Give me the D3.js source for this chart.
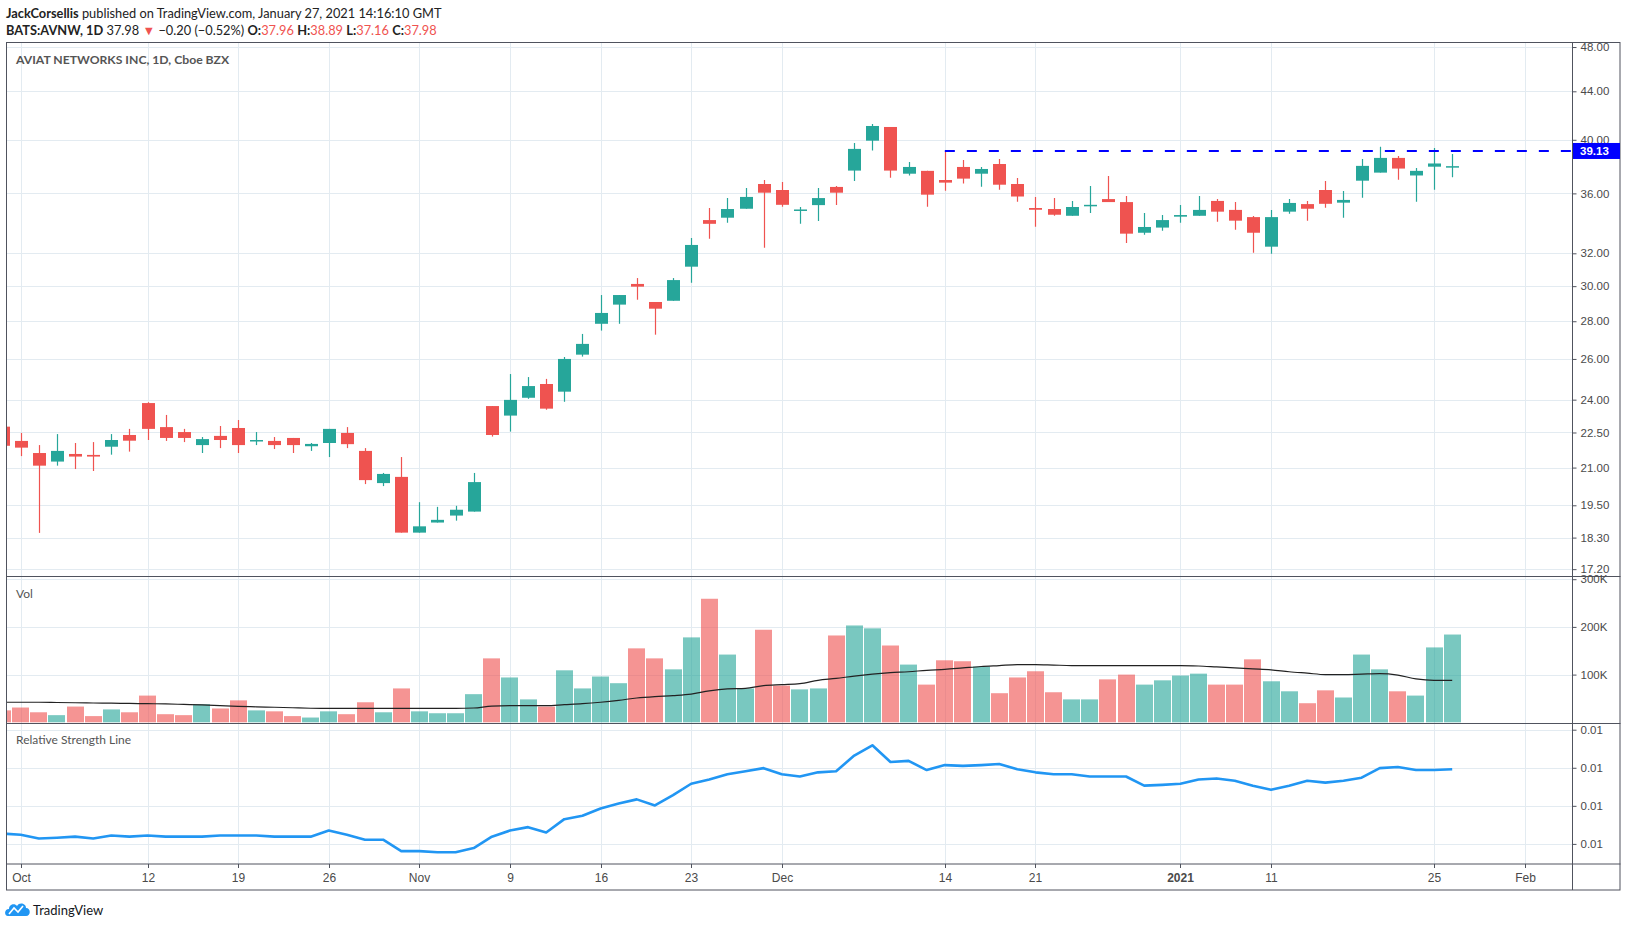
<!DOCTYPE html>
<html><head><meta charset="utf-8">
<script src="https://cdn.jsdelivr.net/npm/d3@7"></script>
<style>body{margin:0;background:#fff;} svg{display:block;font-family:"Liberation Sans",Arial,sans-serif;}</style>
</head><body><svg id="c" width="1627" height="930"></svg>
<script>
// ---------- DATA ----------
const dates = [
 "2020-09-30",
 "2020-10-01","2020-10-02","2020-10-05","2020-10-06","2020-10-07","2020-10-08","2020-10-09","2020-10-12","2020-10-13","2020-10-14","2020-10-15","2020-10-16","2020-10-19","2020-10-20","2020-10-21","2020-10-22","2020-10-23","2020-10-26","2020-10-27","2020-10-28","2020-10-29","2020-10-30",
 "2020-11-02","2020-11-03","2020-11-04","2020-11-05","2020-11-06","2020-11-09","2020-11-10","2020-11-11","2020-11-12","2020-11-13","2020-11-16","2020-11-17","2020-11-18","2020-11-19","2020-11-20","2020-11-23","2020-11-24","2020-11-25","2020-11-27","2020-11-30",
 "2020-12-01","2020-12-02","2020-12-03","2020-12-04","2020-12-07","2020-12-08","2020-12-09","2020-12-10","2020-12-11","2020-12-14","2020-12-15","2020-12-16","2020-12-17","2020-12-18","2020-12-21","2020-12-22","2020-12-23","2020-12-24","2020-12-28","2020-12-29","2020-12-30","2020-12-31",
 "2021-01-04","2021-01-05","2021-01-06","2021-01-07","2021-01-08","2021-01-11","2021-01-12","2021-01-13","2021-01-14","2021-01-15","2021-01-19","2021-01-20","2021-01-21","2021-01-22","2021-01-25","2021-01-26"
];
const futureDates = ["2021-01-27","2021-01-28","2021-01-29","2021-02-01"];

const opens = [22.76,
 22.13,21.61,21.25,21.57,21.53,21.88,22.39,23.84,22.74,22.52,21.95,22.35,22.70,22.13,22.13,22.26,21.90,22.04,22.48,21.70,20.37,20.62,
 18.48,18.85,19.11,19.26,23.70,23.26,24.09,24.75,24.38,26.22,27.86,28.93,30.13,29.08,29.15,31.17,34.16,34.32,34.93,36.67,
 36.24,34.80,35.18,36.46,37.65,39.93,41.02,37.42,37.63,36.96,37.92,37.42,38.14,36.67,34.98,34.91,34.45,35.13,35.60,35.39,33.32,33.66,
 34.39,34.45,35.47,34.85,34.36,32.42,34.73,35.25,36.24,35.35,36.91,37.50,38.60,37.29,37.94,37.96];
const highs = [22.95,
 22.48,21.95,22.43,22.04,22.08,22.43,22.66,23.88,23.29,22.66,22.30,22.79,23.06,22.52,22.30,22.26,22.04,22.66,22.74,21.82,20.78,21.44,
 19.62,19.44,19.48,20.78,23.70,25.24,25.09,25.00,26.10,27.31,29.48,29.48,30.48,29.08,30.48,32.98,34.98,35.67,36.39,36.96,
 36.81,35.05,36.39,36.53,39.75,41.26,41.02,38.29,37.63,39.13,38.44,37.92,38.52,37.11,35.75,35.67,35.47,36.53,37.25,35.82,34.64,34.50,
 35.18,35.82,35.60,35.39,34.43,34.85,35.60,35.47,36.89,36.17,38.52,39.45,38.75,37.85,39.36,38.89];
const lows = [21.80,
 21.48,18.47,21.08,20.94,20.86,21.54,21.67,22.17,22.13,22.08,21.61,21.82,21.61,21.95,21.78,21.61,21.70,21.44,21.82,20.33,20.25,18.48,
 18.48,18.85,18.92,19.26,22.32,22.54,24.04,23.53,23.90,26.12,27.49,27.86,29.21,27.27,29.15,30.20,32.93,33.98,34.93,32.35,
 35.06,33.91,34.09,35.18,36.89,39.16,37.13,37.29,35.06,36.19,36.70,36.48,36.26,35.42,33.72,34.45,34.45,34.64,35.39,32.66,33.19,33.45,
 33.98,34.45,34.05,33.52,32.04,31.98,34.59,34.12,35.00,34.32,35.70,37.50,36.98,35.42,36.26,37.16];
const closes = [21.92,
 21.84,21.08,21.70,21.46,21.46,22.17,22.14,22.66,22.26,22.26,22.21,22.17,21.95,22.17,21.95,21.95,22.00,22.66,21.99,20.49,20.74,18.48,
 18.71,18.95,19.33,20.41,22.39,23.99,24.65,23.58,26.00,26.78,28.46,29.48,29.97,28.70,30.36,32.53,33.91,34.91,35.75,36.05,
 35.20,34.88,35.67,36.05,39.29,41.10,37.65,37.92,35.91,36.77,37.06,37.77,36.62,35.78,34.86,34.52,35.05,35.20,35.39,33.26,33.70,34.16,
 34.50,34.85,34.73,34.12,33.32,34.36,35.33,34.93,35.27,35.54,38.00,38.60,37.80,37.63,38.18,37.98];
// volume, thousands of shares
const volumes = [25,
 31,21,15,33,13,27,21,56,17,15,38,29,46,25,23,13,10,23,17,42,21,71,
 23,19,19,59,134,94,48,33,109,71,96,82,155,134,111,178,259,142,71,194,
 77,69,71,182,203,197,161,121,79,130,128,117,61,94,107,63,48,48,90,100,79,88,
 98,102,79,79,132,86,65,40,67,52,142,111,65,56,157,184];
// volume moving average, thousands
const volMA = [42,
 42,42,41.5,41,40.5,40,39.5,39,38.5,37.5,36.5,35,33.5,32.5,31.5,30.5,29.5,29,29,29,29,
 29,29,29,29,30,34,35,35,35,37,39,42,46,51,54,56,59,66,70,71,
 77,79,81,88,92,97,101,104,106,109,111,114,117,119,121,121,120,119,119,119,119,119,
 119,119,118,116,114,112,110,106,103,100,100,101,102,99,91,88,88,91];
// relative strength line
const rsl = [0.00727,
 0.00724,0.00714,0.00716,0.00719,0.00714,0.00722,0.00719,0.00722,0.00719,0.00719,0.00719,0.00722,0.00722,0.00722,0.00719,0.00719,0.00719,0.00735,0.00724,0.00711,0.00711,0.00681,
 0.00681,0.00678,0.00678,0.00689,0.00719,0.00735,0.00744,0.00730,0.00765,0.00774,0.00793,0.00806,0.00817,0.00801,0.00828,0.00858,0.00869,0.00883,0.00891,0.00899,
 0.00883,0.00877,0.00888,0.00891,0.00932,0.00959,0.00915,0.00918,0.00894,0.00907,0.00905,0.00907,0.00910,0.00896,0.00888,0.00883,0.00883,0.00877,0.00877,0.00877,0.00853,0.00855,
 0.00858,0.00869,0.00872,0.00866,0.00853,0.00842,0.00853,0.00866,0.00861,0.00866,0.00874,0.00899,0.00902,0.00894,0.00894,0.00896];

const priceTicks = [17.20,18.30,19.50,21.00,22.50,24.00,26.00,28.00,30.00,32.00,36.00,40.00,44.00,48.00];
const volTicks = [100000,200000,300000];
const volTickLabels = ["100K","200K","300K"];
const rslTicks = [0.0070,0.0080,0.0090,0.0100];
const timeTicks = [["2020-10-01","Oct"],["2020-10-12","12"],["2020-10-19","19"],["2020-10-26","26"],["2020-11-02","Nov"],["2020-11-09","9"],["2020-11-16","16"],["2020-11-23","23"],["2020-12-01","Dec"],["2020-12-14","14"],["2020-12-21","21"],["2021-01-04","2021"],["2021-01-11","11"],["2021-01-25","25"],["2021-02-01","Feb"]];
const levelPrice = 39.13, levelStart = "2020-12-14";

// ---------- LAYOUT ----------
const L = 7, R = 1572, FR = 1620;
const pTop = 42.5, pBot = 576.5, vBot = 723.5, rBot = 864, fBot = 890;
const UP = "#26a69a", DN = "#ef5350", GRID = "#e3ebf1", AX = "#50535e", TXT = "#4a4a4a";
const allDates = dates.concat(futureDates);
const idx = d => allDates.indexOf(d);

const svg = d3.select("#c");
svg.append("rect").attr("width",1627).attr("height",930).attr("fill","#fff");
svg.append("defs").append("clipPath").attr("id","clip")
  .append("rect").attr("x",L).attr("y",pTop).attr("width",R-L).attr("height",rBot-pTop);

const x = d3.scaleLinear().domain([0,1]).range([2.6, 2.6+18.12]);
const yP = d3.scaleLog().domain([16.953,48.43]).range([pBot,pTop]);
const yV = d3.scaleLinear().domain([0,300000]).range([722.3,579.2]);
const yR = d3.scaleLinear().domain([0.0070,0.0100]).range([843.9,729.7]);

const data = dates.map((d,i)=>({i,d,o:opens[i],h:highs[i],l:lows[i],c:closes[i],v:volumes[i]*1000,ma:volMA[i]*1000,r:rsl[i]}));

// ---------- GRID ----------
const grid = svg.append("g").attr("stroke",GRID).attr("stroke-width",1);
timeTicks.forEach(([d])=>{
  const xx = Math.round(x(idx(d)))+0.5;
  grid.append("line").attr("x1",xx).attr("x2",xx).attr("y1",pTop).attr("y2",rBot);
});
priceTicks.forEach(p=>{const yy=Math.round(yP(p))+0.5;grid.append("line").attr("x1",L).attr("x2",R).attr("y1",yy).attr("y2",yy);});
volTicks.forEach(v=>{const yy=Math.round(yV(v))+0.5;grid.append("line").attr("x1",L).attr("x2",R).attr("y1",yy).attr("y2",yy);});
rslTicks.forEach(v=>{const yy=Math.round(yR(v))+0.5;grid.append("line").attr("x1",L).attr("x2",R).attr("y1",yy).attr("y2",yy);});

const plot = svg.append("g").attr("clip-path","url(#clip)");

// ---------- CANDLES ----------
const cx = d => Math.round(x(d.i));
plot.selectAll(".wick").data(data).join("line")
  .attr("x1",d=>cx(d)+0.5).attr("x2",d=>cx(d)+0.5)
  .attr("y1",d=>yP(d.h)).attr("y2",d=>yP(d.l))
  .attr("stroke",d=>d.c>=d.o?UP:DN).attr("stroke-width",1.2);
plot.selectAll(".body").data(data).join("rect")
  .attr("x",d=>cx(d)-6).attr("width",13)
  .attr("y",d=>yP(Math.max(d.o,d.c)))
  .attr("height",d=>Math.max(1.5,yP(Math.min(d.o,d.c))-yP(Math.max(d.o,d.c))))
  .attr("fill",d=>d.c>=d.o?UP:DN);

// level line
plot.append("line")
  .attr("x1",x(idx(levelStart))).attr("x2",R)
  .attr("y1",yP(levelPrice)).attr("y2",yP(levelPrice))
  .attr("stroke","#0000ff").attr("stroke-width",2).attr("stroke-dasharray","10,12");

// ---------- VOLUME ----------
plot.selectAll(".vol").data(data).join("rect")
  .attr("x",d=>Math.round(x(d.i)-8.5)).attr("width",17)
  .attr("y",d=>yV(d.v)).attr("height",d=>yV(0)-yV(d.v))
  .attr("fill",d=>d.c>=d.o?UP:DN).attr("fill-opacity",0.62);
plot.append("path").datum(data)
  .attr("d",d3.line().x(d=>x(d.i)).y(d=>yV(d.ma)).curve(d3.curveMonotoneX))
  .attr("fill","none").attr("stroke","#222").attr("stroke-width",1.2);

// ---------- RSL ----------
plot.append("path").datum(data)
  .attr("d",d3.line().x(d=>x(d.i)).y(d=>yR(d.r)))
  .attr("fill","none").attr("stroke","#2196f3").attr("stroke-width",2.6).attr("stroke-linejoin","round");

// ---------- FRAME ----------
const fr = svg.append("g").attr("stroke",AX).attr("stroke-width",1).attr("fill","none");
fr.append("rect").attr("x",6.5).attr("y",pTop).attr("width",FR-6.5).attr("height",fBot-pTop);
fr.append("line").attr("x1",R+0.5).attr("x2",R+0.5).attr("y1",pTop).attr("y2",fBot);
[pBot,vBot,rBot].forEach(yy=>fr.append("line").attr("x1",6.5).attr("x2",FR+0.5).attr("y1",yy).attr("y2",yy));

// ---------- AXES ----------
function styleAxis(g){
  g.select(".domain").remove();
  g.selectAll(".tick line").attr("stroke",AX);
  g.selectAll(".tick text").attr("fill",TXT).attr("font-size","11.5px").attr("font-family","Liberation Sans, Arial, sans-serif");
}
svg.append("g").attr("transform",`translate(${R+0.5},0)`)
  .call(d3.axisRight(yP).tickValues(priceTicks).tickFormat(d3.format(".2f")).tickSize(4).tickPadding(4))
  .call(styleAxis);
svg.append("g").attr("transform",`translate(${R+0.5},0)`)
  .call(d3.axisRight(yV).tickValues(volTicks).tickFormat((d,i)=>volTickLabels[i]).tickSize(4).tickPadding(4))
  .call(styleAxis);
svg.append("g").attr("transform",`translate(${R+0.5},0)`)
  .call(d3.axisRight(yR).tickValues(rslTicks).tickFormat(d3.format(".2f")).tickSize(4).tickPadding(4))
  .call(styleAxis);
const tAx = svg.append("g").attr("transform",`translate(0,${rBot})`)
  .call(d3.axisBottom(x).tickValues(timeTicks.map(t=>idx(t[0]))).tickFormat((d,i)=>timeTicks[i][1]).tickSize(4).tickPadding(5))
  .call(styleAxis);
tAx.selectAll(".tick text").attr("font-size","12px").attr("font-weight",(d,i)=>timeTicks[i][1]==="2021"?"bold":"normal");
tAx.selectAll(".tick").attr("transform",d=>`translate(${Math.round(x(d))+0.5},0)`);

// level price label on axis
const ly = yP(levelPrice);
svg.append("rect").attr("x",R+1).attr("y",ly-8).attr("width",FR-R-1).attr("height",16).attr("fill","#0000ff");
svg.append("text").attr("x",R+8).attr("y",ly+4).attr("fill","#fff").attr("font-size","11.5px").attr("font-weight","bold").text(levelPrice.toFixed(2));

// ---------- LABELS ----------
svg.append("text").attr("x",16).attr("y",64).attr("fill","#555").attr("font-size","12.2px").attr("font-weight","bold")
  .attr("font-family","Lato, sans-serif").text("AVIAT NETWORKS INC, 1D, Cboe BZX");
svg.append("text").attr("x",16).attr("y",598).attr("fill","#555").attr("font-size","12px").attr("font-family","Lato, sans-serif").text("Vol");
svg.append("text").attr("x",16).attr("y",744).attr("fill","#555").attr("font-size","12px").attr("font-family","Lato, sans-serif").text("Relative Strength Line");

// header
const h1 = svg.append("text").attr("x",6).attr("y",18).attr("font-size","12.8px").attr("font-family","Lato, sans-serif").attr("fill","#222");
h1.append("tspan").attr("font-weight","bold").text("JackCorsellis");
h1.append("tspan").text(" published on TradingView.com, January 27, 2021 14:16:10 GMT");
const last = data[data.length-1], prev = data[data.length-2];
const chg = last.c - prev.c;
const h2 = svg.append("text").attr("x",6).attr("y",35).attr("font-size","12.8px").attr("font-family","Lato, sans-serif").attr("fill","#222");
h2.append("tspan").attr("font-weight","bold").text("BATS:AVNW, 1D");
h2.append("tspan").text(" " + last.c.toFixed(2) + " ");
h2.append("tspan").attr("fill",DN).text("▼");
h2.append("tspan").text(" \u2212" + Math.abs(chg).toFixed(2) + " (\u2212" + Math.abs(chg/prev.c*100).toFixed(2) + "%) ");
[["O:",last.o],["H:",last.h],["L:",last.l],["C:",last.c]].forEach(([k,v])=>{
  h2.append("tspan").attr("font-weight","bold").text(k);
  h2.append("tspan").attr("fill",DN).text(v.toFixed(2)+" ");
});

// TradingView logo
const logo = svg.append("g").attr("transform","translate(5,902)");
logo.append("path").attr("d","M3,14 C-1,14 -1,7 4,7 C4,2 10,1 12,4 C14,0 21,1 21,6 C26,6 26,14 21,14 Z").attr("fill","#2196f3");
logo.append("path").attr("d","M4,12 L9,6 L13,10 L18,4").attr("fill","none").attr("stroke","#fff").attr("stroke-width",1.6);
svg.append("text").attr("x",33).attr("y",915).attr("font-size","13px").attr("font-family","Lato, sans-serif").attr("fill","#131722").text("TradingView");
</script></body></html>
